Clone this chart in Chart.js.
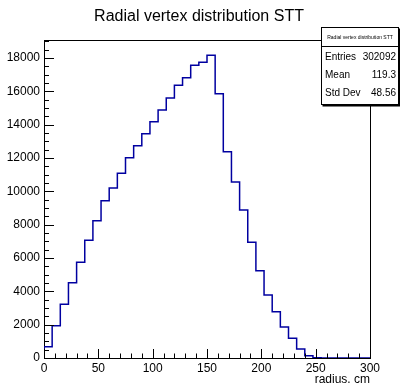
<!DOCTYPE html>
<html>
<head>
<meta charset="utf-8">
<script src="https://cdn.jsdelivr.net/npm/chart.js@4.4.1/dist/chart.umd.min.js"></script>
<style>
  body { margin: 0; background: #fff; }
  canvas { display: block; }
</style>
</head>
<body>
<canvas id="histChart" width="400" height="385"></canvas>
<script>
// histogram: 40 bins of 7.5 cm from 0 to 300
const binWidth = 7.5;
const binCounts = [
  680, 1940, 3220, 4520, 5740, 7060, 8240, 9440, 10200, 11080,
  12020, 12740, 13460, 14180, 14880, 15600, 16360, 16820, 17560, 17740,
  18160, 15850, 12380, 10560, 8880, 6940, 5240, 3780, 2780, 1860,
  1180, 540, 130, 20, 0, 0, 0, 0, 0, 0
];
const xTicks = [0, 50, 100, 150, 200, 250, 300];
const yTicks = [0, 2000, 4000, 6000, 8000, 10000, 12000, 14000, 16000, 18000];
const statLabels = ['Entries', 'Mean', 'Std Dev'];
const statValues = ['302092', '119.3', '48.56'];

const FONT = "'Liberation Sans', Arial, Helvetica, sans-serif";

// one point per bin upper edge; 'after' steps up at the bin's lower edge
const points = [{ x: 0, y: 0 }];
binCounts.forEach((v, i) => points.push({ x: (i + 1) * binWidth, y: v }));

// ROOT-style inward ticks, closed frame, title and stats box
const frameTicks = {
  id: 'frameTicks',
  afterDraw(chart) {
    const { ctx, chartArea: a, scales } = chart;
    const xs = scales.x, ys = scales.y;
    ctx.save();
    ctx.strokeStyle = '#000';
    ctx.lineWidth = 1;
    ctx.beginPath();
    ctx.moveTo(a.left, a.top + 0.5);
    ctx.lineTo(a.right + 0.5, a.top + 0.5);
    ctx.lineTo(a.right + 0.5, a.bottom);
    for (let v = 0; v <= 300; v += 10) {
      const px = Math.round(xs.getPixelForValue(v)) + 0.5;
      const len = v % 50 === 0 ? 9 : 4.5;
      ctx.moveTo(px, a.bottom);
      ctx.lineTo(px, a.bottom - len);
    }
    for (let v = 0; v <= ys.max; v += 500) {
      const py = Math.round(ys.getPixelForValue(v)) + 0.5;
      const len = v % 2000 === 0 ? 10 : 5;
      ctx.moveTo(a.left, py);
      ctx.lineTo(a.left + len, py);
    }
    ctx.stroke();

    ctx.fillStyle = '#000';
    ctx.textBaseline = 'middle';
    ctx.textAlign = 'center';
    ctx.font = '16px ' + FONT;
    ctx.fillText('Radial vertex distribution STT', 199, 17);

    // stats box
    const bx = 321.5, by = 27.5, bw = 77, bh = 77;
    ctx.fillRect(bx + 1, by + 1, bw + 1, bh + 1);
    ctx.fillStyle = '#fff';
    ctx.fillRect(bx, by, bw, bh);
    ctx.strokeRect(bx, by, bw, bh);
    ctx.beginPath();
    ctx.moveTo(bx, 46.5);
    ctx.lineTo(bx + bw, 46.5);
    ctx.stroke();
    ctx.fillStyle = '#000';
    ctx.font = '5px ' + FONT;
    ctx.fillText('Radial vertex distribution STT', bx + bw / 2, 38);
    ctx.font = '10px ' + FONT;
    statLabels.forEach((lab, i) => {
      const ty = 57 + i * 18.3;
      ctx.textAlign = 'left';
      ctx.fillText(lab, 325, ty);
      ctx.textAlign = 'right';
      ctx.fillText(statValues[i], 396, ty);
    });
    ctx.restore();
  }
};

new Chart(document.getElementById('histChart'), {
  type: 'line',
  data: {
    datasets: [{
      data: points,
      stepped: 'after',
      borderColor: '#0000a0',
      borderWidth: 1.5,
      pointRadius: 0,
      fill: false
    }]
  },
  options: {
    responsive: false,
    animation: false,
    layout: { padding: { top: 40, right: 30, bottom: 0, left: 0 } },
    plugins: {
      legend: { display: false },
      tooltip: { enabled: false },
      title: { display: false }
    },
    scales: {
      x: {
        type: 'linear',
        min: 0,
        max: 300,
        grid: { display: false, drawTicks: false },
        border: { display: true, color: '#000', width: 1 },
        afterBuildTicks: (s) => { s.ticks = xTicks.map(v => ({ value: v })); },
        afterFit: (s) => { s.height = 27; },
        ticks: {
          color: '#000',
          padding: 3,
          maxRotation: 0,
          callback: (v) => String(v),
          font: { family: FONT, size: 12 }
        },
        title: {
          display: true,
          text: 'radius. cm',
          align: 'end',
          color: '#000',
          padding: { top: 0, bottom: -2 },
          font: { family: FONT, size: 12 }
        }
      },
      y: {
        min: 0,
        max: 19080,
        grid: { display: false, drawTicks: false },
        border: { display: true, color: '#000', width: 1 },
        afterBuildTicks: (s) => { s.ticks = yTicks.map(v => ({ value: v })); },
        afterFit: (s) => { s.width = 44; },
        ticks: {
          color: '#000',
          padding: 4,
          callback: (v) => String(v),
          font: { family: FONT, size: 12 }
        }
      }
    }
  },
  plugins: [frameTicks]
});
</script>
</body>
</html>
